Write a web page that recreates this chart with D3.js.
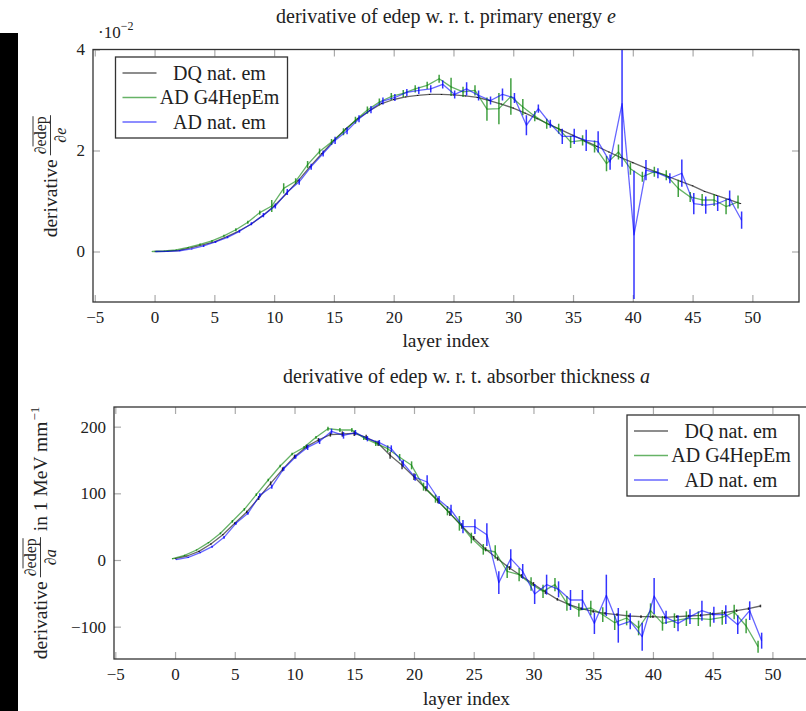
<!DOCTYPE html>
<html>
<head>
<meta charset="utf-8">
<script src="https://cdn.jsdelivr.net/npm/d3@7"></script>
<style>
body { margin: 0; background: #fff; }
svg { display: block; }
text { font-family: "Liberation Serif", "DejaVu Serif", serif; fill: #222; }
</style>
</head>
<body>
<svg id="chart" width="806" height="711"></svg>
<script>
var layers = [0,1,2,3,4,5,6,7,8,9,10,11,12,13,14,15,16,17,18,19,20,21,22,23,24,
    25,26,27,28,29,30,31,32,33,34,35,36,37,38,39,40,41,42,43,44,45,46,47,48,49]

var xTicks = [-5, 0, 5, 10, 15, 20, 25, 30, 35, 40, 45, 50]
var eTicks = [0, 2, 4]
var aTicks = [-100, 0, 100, 200]
var seriesNames = ["DQ nat. em", "AD G4HepEm", "AD nat. em"]

// top panel, values in units of 1e-2
var eDQ = [0, 0.005, 0.02, 0.07, 0.13, 0.19, 0.29, 0.40, 0.53, 0.70, 0.90, 1.14, 1.40, 1.68, 1.94, 2.20, 2.43, 2.63, 2.79, 2.93,
    3.01, 3.06, 3.09, 3.11, 3.11, 3.10, 3.08, 3.05, 2.99, 2.92, 2.84, 2.74, 2.63, 2.52, 2.41, 2.30, 2.19, 2.08, 1.97, 1.86,
    1.76, 1.66, 1.57, 1.48, 1.39, 1.30, 1.19, 1.11, 1.03, 0.95]
var eDQErr = [0,0,0,0,0,0,0,0,0,0,0.01,0.01,0.01,0.01,0.01,0.01,0.01,0.01,0.01,0.01,0.01,0.01,0.01,0.01,0.01,
    0.01,0.01,0.01,0.01,0.01,0.01,0.01,0.01,0.01,0.01,0.01,0.01,0.01,0.01,0.01,0.01,0.01,0.01,0.01,0.01,0.01,0.01,0.01,0.01,0.01]
var eG4 = [0, 0.01, 0.03, 0.08, 0.14, 0.21, 0.31, 0.43, 0.58, 0.77, 0.90, 1.25, 1.39, 1.72, 1.98, 2.17, 2.37, 2.60, 2.80, 2.96,
    3.07, 3.13, 3.22, 3.29, 3.42, 3.26, 3.16, 3.19, 2.82, 2.83, 3.07, 2.86, 2.68, 2.53, 2.43, 2.17, 2.20, 2.08, 1.74, 1.97,
    1.64, 1.48, 1.58, 1.51, 1.25, 1.08, 1.02, 1.02, 0.89, 0.98]
var eG4Err = [0.005,0.005,0.01,0.01,0.02,0.02,0.02,0.03,0.03,0.04,0.12,0.1,0.06,0.07,0.06,0.06,0.07,0.07,0.07,0.07,
    0.07,0.07,0.07,0.07,0.08,0.18,0.1,0.1,0.23,0.31,0.36,0.16,0.1,0.1,0.1,0.12,0.1,0.12,0.15,0.15,
    0.12,0.1,0.1,0.1,0.17,0.1,0.12,0.12,0.15,0.13]
var eNat = [0, 0.003, 0.015, 0.05, 0.11, 0.19, 0.28, 0.40, 0.55, 0.72, 0.90, 1.18, 1.38, 1.68, 1.94, 2.20, 2.39, 2.63, 2.81, 2.98,
    3.05, 3.15, 3.19, 3.22, 3.31, 3.11, 3.22, 3.09, 2.99, 3.11, 3.04, 2.50, 2.83, 2.53, 2.28, 2.28, 2.20, 2.17, 1.77, 2.93,
    0.33, 1.61, 1.55, 1.45, 1.55, 0.95, 0.92, 0.95, 1.05, 0.62]
var eNatErr = [0.005,0.005,0.01,0.01,0.02,0.02,0.02,0.03,0.03,0.04,0.05,0.06,0.06,0.06,0.06,0.07,0.07,0.07,0.07,0.07,
    0.07,0.07,0.07,0.07,0.08,0.08,0.13,0.1,0.08,0.12,0.1,0.2,0.08,0.08,0.15,0.15,0.21,0.21,0.15,1.25,
    1.27,0.2,0.1,0.1,0.27,0.21,0.17,0.15,0.16,0.17]

// bottom panel, values in MeV/mm
var aDQ = [2, 6, 13, 24, 38, 55, 72, 93, 115, 136, 155, 170, 180, 188, 189, 190, 184, 175, 157, 142,
    125, 107, 89, 70, 51, 33, 16, 2, -12, -24, -36, -48, -59, -67, -73, -77, -80, -82, -84, -85,
    -85, -86, -85, -84, -83, -81, -79, -76, -73, -69]
var aDQErr = [0.5,0.5,1,1,1,1.5,2,3,3,3,3,3,3,3,4,4,4,4,5,6,5,4,4,4,4,3,3,3,3,3,3,3,2,2,2,2,2,2,2,2,2,2,2,2,2,2,2,2,2,2]
var aG4 = [2, 7, 15, 26, 40, 58, 76, 98, 120, 141, 159, 169, 184, 197, 195, 195, 183, 175, 167, 154,
    142, 110, 92, 74, 55, 33, 16, 12, -17, -22, -36, -47, -37, -65, -75, -72, -82, -94, -87, -102,
    -76, -95, -91, -88, -88, -89, -86, -78, -99, -130]
var aG4Err = [1,1,1,1,1.5,2,2,2,2,2,2,2,2,3,3,3,3,4,5,5,6,6,6,7,11,8,8,10,10,10,10,10,10,11,10,11,11,11,11,11,
    11,11,11,11,11,11,11,11,11,9]
var aNat = [0.5, 4, 11, 20, 34, 55, 70, 97, 110, 137, 155, 169, 178, 193, 187, 191, 182, 176, 167, 145,
    124, 117, 90, 75, 50, 50, 38, -34, 2, -17, -51, -37, -44, -60, -60, -95, -53, -98, -92, -115,
    -54, -86, -95, -85, -76, -82, -82, -97, -76, -121]
var aNatErr = [0.5,1,1,1.5,2,2,2,3,3,3,3,4,4,4,5,4,4,4,5,5,5,10,6,8,10,11,17,17,14,11,15,15,12,15,15,16,31,26,12,21,
    27,10,12,11,15,12,14,14,14,12]

var styles = [
    {line: "#000", lineOp: 0.6, bar: "#000", barOp: 0.75, off: 0},
    {line: "#008000", lineOp: 0.6, bar: "#008000", barOp: 0.75, off: -0.2},
    {line: "#0000ff", lineOp: 0.6, bar: "#0000ff", barOp: 0.8, off: 0.1}
]

var svg = d3.select("#chart")

// black strip at the left edge of the screenshot
svg.append("rect").attr("x", 0).attr("y", 33).attr("width", 18).attr("height", 678).attr("fill", "#000")

function drawPanel(opt) {
    var x = d3.scaleLinear().domain(opt.xDomain).range([opt.left, opt.right])
    var y = d3.scaleLinear().domain(opt.yDomain).range([opt.bottom, opt.top])
    var g = svg.append("g")
    var fmt = d3.format("d")

    g.append("clipPath").attr("id", opt.id + "clip")
        .append("rect")
        .attr("x", opt.left).attr("y", opt.top)
        .attr("width", opt.right - opt.left).attr("height", opt.bottom - opt.top)

    // axes, ticks point inwards and are mirrored
    var axB = g.append("g").attr("transform", "translate(0," + opt.bottom + ")")
        .call(d3.axisBottom(x).tickValues(xTicks).tickSize(-7).tickPadding(9).tickFormat(fmt))
    var axT = g.append("g").attr("transform", "translate(0," + opt.top + ")")
        .call(d3.axisTop(x).tickValues(xTicks).tickSize(-7).tickFormat(""))
    var axL = g.append("g").attr("transform", "translate(" + opt.left + ",0)")
        .call(d3.axisLeft(y).tickValues(opt.yTicks).tickSize(-7).tickPadding(8).tickFormat(fmt))
    var axR = g.append("g").attr("transform", "translate(" + opt.right + ",0)")
        .call(d3.axisRight(y).tickValues(opt.yTicks).tickSize(-7).tickFormat(""))
    ;[axB, axT, axL, axR].forEach(function(a) {
        a.select(".domain").remove()
        a.selectAll(".tick line").attr("stroke", "#aaa").attr("stroke-width", 1.2)
        a.selectAll("text").attr("font-size", 17).attr("fill", "#222")
            .attr("font-family", "'Liberation Serif', serif")
    })

    var plot = g.append("g").attr("clip-path", "url(#" + opt.id + "clip)")
    opt.series.forEach(function(s, k) {
        var st = styles[k]
        var line = d3.line()
            .x(function(d, i) { return x(layers[i] + st.off) })
            .y(function(d) { return y(d) })
        plot.append("path")
            .attr("d", line(s.values))
            .attr("fill", "none")
            .attr("stroke", st.line)
            .attr("stroke-opacity", st.lineOp)
            .attr("stroke-width", 1.3)
            .attr("stroke-linejoin", "round")
        plot.append("g").selectAll("line")
            .data(s.values)
            .enter()
            .append("line")
            .attr("x1", function(d, i) { return x(layers[i] + st.off) })
            .attr("x2", function(d, i) { return x(layers[i] + st.off) })
            .attr("y1", function(d, i) { return y(d - s.err[i]) })
            .attr("y2", function(d, i) { return y(d + s.err[i]) })
            .attr("stroke", st.bar)
            .attr("stroke-opacity", st.barOp)
            .attr("stroke-width", 1.5)
    })

    g.append("rect")
        .attr("x", opt.left).attr("y", opt.top)
        .attr("width", opt.right - opt.left).attr("height", opt.bottom - opt.top)
        .attr("fill", "none").attr("stroke", "#333").attr("stroke-width", 1.3)

    var cx = (opt.left + opt.right) / 2
    var title = g.append("text").attr("x", cx).attr("y", opt.titleY)
        .attr("text-anchor", "middle").attr("font-size", 20)
    title.append("tspan").text(opt.title)
    title.append("tspan").attr("font-style", "italic").text(opt.titleVar)

    g.append("text").attr("x", cx).attr("y", opt.xLabelY)
        .attr("text-anchor", "middle").attr("font-size", 19.5).text("layer index")

    // legend
    var lg = g.append("g").attr("transform", "translate(" + opt.legend[0] + "," + opt.legend[1] + ")")
    lg.append("rect").attr("width", 172).attr("height", 81)
        .attr("fill", "#fff").attr("stroke", "#333").attr("stroke-width", 1.3)
    seriesNames.forEach(function(name, k) {
        var yy = 16 + k * 24.5
        lg.append("line").attr("x1", 7).attr("x2", 41).attr("y1", yy).attr("y2", yy)
            .attr("stroke", styles[k].line).attr("stroke-opacity", styles[k].lineOp).attr("stroke-width", 1.3)
        lg.append("text").attr("x", 104).attr("y", yy + 6.5).attr("text-anchor", "middle")
            .attr("font-size", 20).text(name)
    })

    yLabel(opt.yLabelX, (opt.top + opt.bottom) / 2, opt.denom, opt.unit)
}

function yLabel(bx, cy, denom, unit) {
    var g = svg.append("g")
    var t = g.append("text").attr("font-size", 19.5).text("derivative")
    var fx = t.node().getComputedTextLength() + 5
    var p = g.append("text").attr("x", fx).attr("y", -11).attr("font-size", 16).text("∂")
    var pw = p.node().getComputedTextLength()
    var ed = g.append("text").attr("x", fx + pw).attr("y", -11).attr("font-size", 16).text("edep")
    var ew = ed.node().getComputedTextLength()
    g.append("line").attr("x1", fx + pw).attr("x2", fx + pw + ew).attr("y1", -24).attr("y2", -24)
        .attr("stroke", "#222").attr("stroke-width", 0.9)
    var nw = pw + ew
    g.append("line").attr("x1", fx - 1).attr("x2", fx + nw + 1).attr("y1", -6.5).attr("y2", -6.5)
        .attr("stroke", "#222").attr("stroke-width", 0.9)
    var dn = g.append("text").attr("y", 8.5).attr("font-size", 16)
    dn.append("tspan").text("∂")
    dn.append("tspan").attr("font-style", "italic").text(denom)
    var dw = dn.node().getComputedTextLength()
    dn.attr("x", fx + (nw - dw) / 2)
    var end = fx + nw + 2
    if (unit) {
        var u = g.append("text").attr("x", end + 5).attr("font-size", 19.5).text(unit)
        end += 5 + u.node().getComputedTextLength()
        var sup = g.append("text").attr("x", end + 1).attr("y", -8).attr("font-size", 13).text("−1")
        end += 1 + sup.node().getComputedTextLength()
    }
    g.attr("transform", "translate(" + bx + "," + cy + ") rotate(-90) translate(" + (-end / 2) + ",0)")
}

drawPanel({
    id: "e", left: 93, right: 799, top: 49.5, bottom: 302,
    xDomain: [-5.15, 53.9], yDomain: [-1, 4], yTicks: eTicks,
    series: [{values: eDQ, err: eDQErr}, {values: eG4, err: eG4Err}, {values: eNat, err: eNatErr}],
    title: "derivative of edep w. r. t. primary energy ", titleVar: "e", titleY: 23,
    xLabelY: 347, legend: [115.5, 57], yLabelX: 57, denom: "e", unit: null
})

// exponent marker of the top y axis
var ex = svg.append("text").attr("x", 98).attr("y", 38).attr("font-size", 17)
ex.append("tspan").text("·10")
ex.append("tspan").attr("dy", -8).attr("font-size", 12).text("−2")

drawPanel({
    id: "a", left: 114, right: 819, top: 407, bottom: 659,
    xDomain: [-5.11, 53.9], yDomain: [-148.5, 229.5], yTicks: aTicks,
    series: [{values: aDQ, err: aDQErr}, {values: aG4, err: aG4Err}, {values: aNat, err: aNatErr}],
    title: "derivative of edep w. r. t. absorber thickness ", titleVar: "a", titleY: 383,
    xLabelY: 705, legend: [627, 415], yLabelX: 47, denom: "a", unit: "in 1 MeV mm"
})
</script>
</body>
</html>
